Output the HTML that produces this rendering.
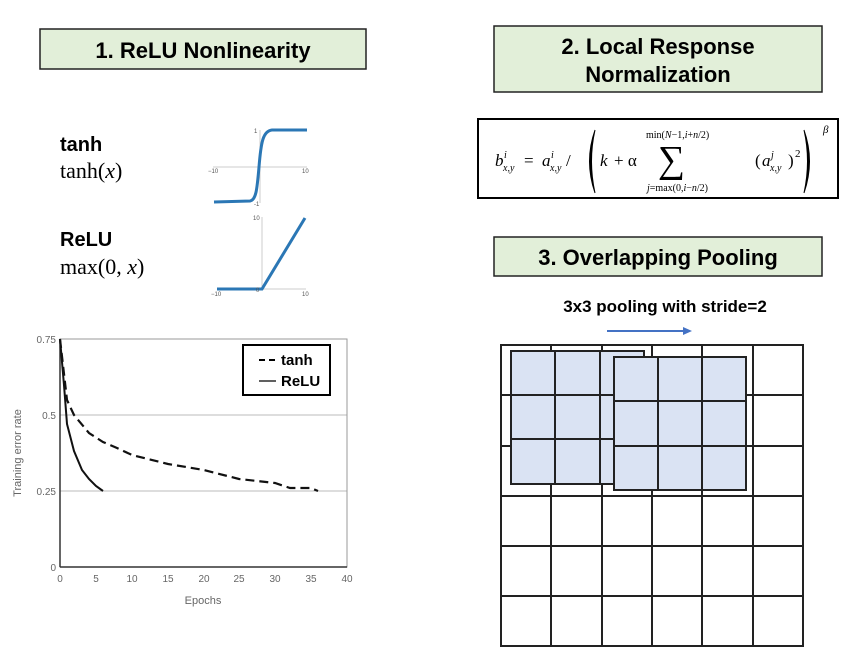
<!DOCTYPE html>
<html><head><meta charset="utf-8"><style>
html,body{margin:0;padding:0;background:#fff;}
svg{display:block;}
</style></head><body>
<svg width="854" height="662" viewBox="0 0 854 662" xmlns="http://www.w3.org/2000/svg">
<rect x="40" y="29" width="326" height="40" fill="#e2efd9" stroke="#222" stroke-width="1.5"/>
<text x="203" y="58" text-anchor="middle" font-family="Liberation Sans, sans-serif" font-weight="bold" font-size="22">1.   ReLU Nonlinearity</text>
<rect x="494" y="26" width="328" height="66" fill="#e2efd9" stroke="#222" stroke-width="1.5"/>
<text x="658" y="54" text-anchor="middle" font-family="Liberation Sans, sans-serif" font-weight="bold" font-size="22">2. Local Response</text>
<text x="658" y="82" text-anchor="middle" font-family="Liberation Sans, sans-serif" font-weight="bold" font-size="22">Normalization</text>
<rect x="494" y="237" width="328" height="39" fill="#e2efd9" stroke="#222" stroke-width="1.5"/>
<text x="658" y="265" text-anchor="middle" font-family="Liberation Sans, sans-serif" font-weight="bold" font-size="22">3. Overlapping Pooling</text>

<text x="60" y="151" font-family="Liberation Sans, sans-serif" font-weight="bold" font-size="20">tanh</text>
<text x="60" y="178" font-family="Liberation Serif, serif" font-size="22">tanh(<tspan font-style="italic">x</tspan>)</text>
<text x="60" y="246" font-family="Liberation Sans, sans-serif" font-weight="bold" font-size="20">ReLU</text>
<text x="60" y="274" font-family="Liberation Serif, serif" font-size="22">max(0, <tspan font-style="italic">x</tspan>)</text>

<g stroke="#ccc" stroke-width="1"><line x1="213" y1="167" x2="307" y2="167"/><line x1="260" y1="130" x2="260" y2="203"/></g>
<path d="M214,202 L250,201 C256,200 257,190 259,167 C261,142 263,131 272,130 L307,130" fill="none" stroke="#2b77b5" stroke-width="3"/>
<g font-family="Liberation Sans, sans-serif" font-size="6" fill="#555"><text x="208" y="173">−10</text><text x="302" y="173">10</text><text x="254" y="133">1</text><text x="254" y="206">-1</text></g>
<g stroke="#ccc" stroke-width="1"><line x1="217" y1="289" x2="306" y2="289"/><line x1="262" y1="217" x2="262" y2="289"/></g>
<path d="M217,289 L262,289 L305,218" fill="none" stroke="#2b77b5" stroke-width="3"/>
<g font-family="Liberation Sans, sans-serif" font-size="6" fill="#555"><text x="211" y="296">−10</text><text x="302" y="296">10</text><text x="253" y="220">10</text><text x="256" y="292">0</text></g>

<g stroke="#bbb" stroke-width="1"><line x1="60" y1="415" x2="347" y2="415"/><line x1="60" y1="491" x2="347" y2="491"/></g>
<rect x="60" y="339" width="287" height="228" fill="none" stroke="#999" stroke-width="1"/>
<line x1="60" y1="339" x2="60" y2="567" stroke="#333" stroke-width="1.5"/>
<line x1="60" y1="567" x2="347" y2="567" stroke="#333" stroke-width="1.5"/>
<g font-family="Liberation Sans, sans-serif" font-size="10" fill="#666" text-anchor="end">
<text x="56" y="343">0.75</text><text x="56" y="419">0.5</text><text x="56" y="495">0.25</text><text x="56" y="571">0</text></g>
<g font-family="Liberation Sans, sans-serif" font-size="10" fill="#666" text-anchor="middle">
<text x="60" y="582">0</text><text x="96" y="582">5</text><text x="132" y="582">10</text><text x="168" y="582">15</text><text x="204" y="582">20</text><text x="239" y="582">25</text><text x="275" y="582">30</text><text x="311" y="582">35</text><text x="347" y="582">40</text>
<text x="203" y="604" font-size="11">Epochs</text>
<text transform="translate(21,453) rotate(-90)" font-size="11">Training error rate</text></g>
<path d="M60,339 L67,400 L74,415 L89,433 L103,442 L117,448 L132,455 L168,464 L204,470 L239,479 L275,483 L290,488 L311,488 L318,491" fill="none" stroke="#111" stroke-width="2.2" stroke-dasharray="9,5"/>
<path d="M60,339 L64,385 L67,424 L74,451 L82,470 L89,479 L96,486 L103,491" fill="none" stroke="#111" stroke-width="2"/>
<rect x="243" y="345" width="87" height="50" fill="#fff" stroke="#000" stroke-width="2"/>
<line x1="259" y1="360" x2="276" y2="360" stroke="#000" stroke-width="2" stroke-dasharray="6,4"/>
<line x1="259" y1="381" x2="276" y2="381" stroke="#000" stroke-width="1.3"/>
<g font-family="Liberation Sans, sans-serif" font-weight="bold" font-size="15"><text x="281" y="365">tanh</text><text x="281" y="386">ReLU</text></g>

<rect x="478" y="119" width="360" height="79" fill="#fff" stroke="#000" stroke-width="2"/>
<g font-family="Liberation Serif, serif" font-style="italic">
<text x="495" y="166" font-size="17">b</text><text x="504" y="158" font-size="10">i</text><text x="503" y="171" font-size="10">x,y</text>
<text x="524" y="166" font-size="17" font-style="normal">=</text>
<text x="542" y="166" font-size="17">a</text><text x="551" y="158" font-size="10">i</text><text x="550" y="171" font-size="10">x,y</text>
<text x="566" y="166" font-size="17" font-style="normal">/</text>
<text x="600" y="166" font-size="17">k</text><text x="614" y="166" font-size="17" font-style="normal">+ α</text>
<text x="658" y="172" font-size="38" font-style="normal">∑</text>
<text x="646" y="138" font-size="10" font-style="normal">min(<tspan font-style="italic">N</tspan>−1,<tspan font-style="italic">i</tspan>+<tspan font-style="italic">n</tspan>/2)</text>
<text x="647" y="191" font-size="10" font-style="normal"><tspan font-style="italic">j</tspan>=max(0,<tspan font-style="italic">i</tspan>−<tspan font-style="italic">n</tspan>/2)</text>
<text x="755" y="166" font-size="17" font-style="normal">(</text><text x="762" y="166" font-size="17">a</text><text x="771" y="158" font-size="10">j</text><text x="770" y="171" font-size="10">x,y</text><text x="788" y="166" font-size="17" font-style="normal">)</text><text x="795" y="157" font-size="11" font-style="normal">2</text>
<text x="823" y="133" font-size="11">β</text>
</g>
<path d="M595,130 Q584,161 595,193 Q588,161 595,130 Z" fill="#000" stroke="#000" stroke-width="1"/>
<path d="M804,130 Q815,161 804,193 Q811,161 804,130 Z" fill="#000" stroke="#000" stroke-width="1"/>

<text x="665" y="312" text-anchor="middle" font-family="Liberation Sans, sans-serif" font-weight="bold" font-size="17">3x3 pooling with stride=2</text>
<line x1="607" y1="331" x2="684" y2="331" stroke="#4472c4" stroke-width="2"/>
<polygon points="692,331 683,327 683,335" fill="#4472c4"/>
<g stroke="#222" stroke-width="2" fill="none">
<rect x="501" y="345" width="302" height="301"/>
<line x1="551" y1="345" x2="551" y2="646"/><line x1="602" y1="345" x2="602" y2="646"/><line x1="652" y1="345" x2="652" y2="646"/><line x1="702" y1="345" x2="702" y2="646"/><line x1="753" y1="345" x2="753" y2="646"/>
<line x1="501" y1="395" x2="803" y2="395"/><line x1="501" y1="446" x2="803" y2="446"/><line x1="501" y1="496" x2="803" y2="496"/><line x1="501" y1="546" x2="803" y2="546"/><line x1="501" y1="596" x2="803" y2="596"/>
</g>
<g stroke="#222" stroke-width="2">
<rect x="511" y="351" width="133" height="133" fill="#dae3f3"/>
<line x1="555" y1="351" x2="555" y2="484"/><line x1="600" y1="351" x2="600" y2="484"/>
<line x1="511" y1="395" x2="644" y2="395"/><line x1="511" y1="439" x2="644" y2="439"/>
<rect x="614" y="357" width="132" height="133" fill="#dae3f3"/>
<line x1="658" y1="357" x2="658" y2="490"/><line x1="702" y1="357" x2="702" y2="490"/>
<line x1="614" y1="401" x2="746" y2="401"/><line x1="614" y1="446" x2="746" y2="446"/>
</g>
</svg>
</body></html>
